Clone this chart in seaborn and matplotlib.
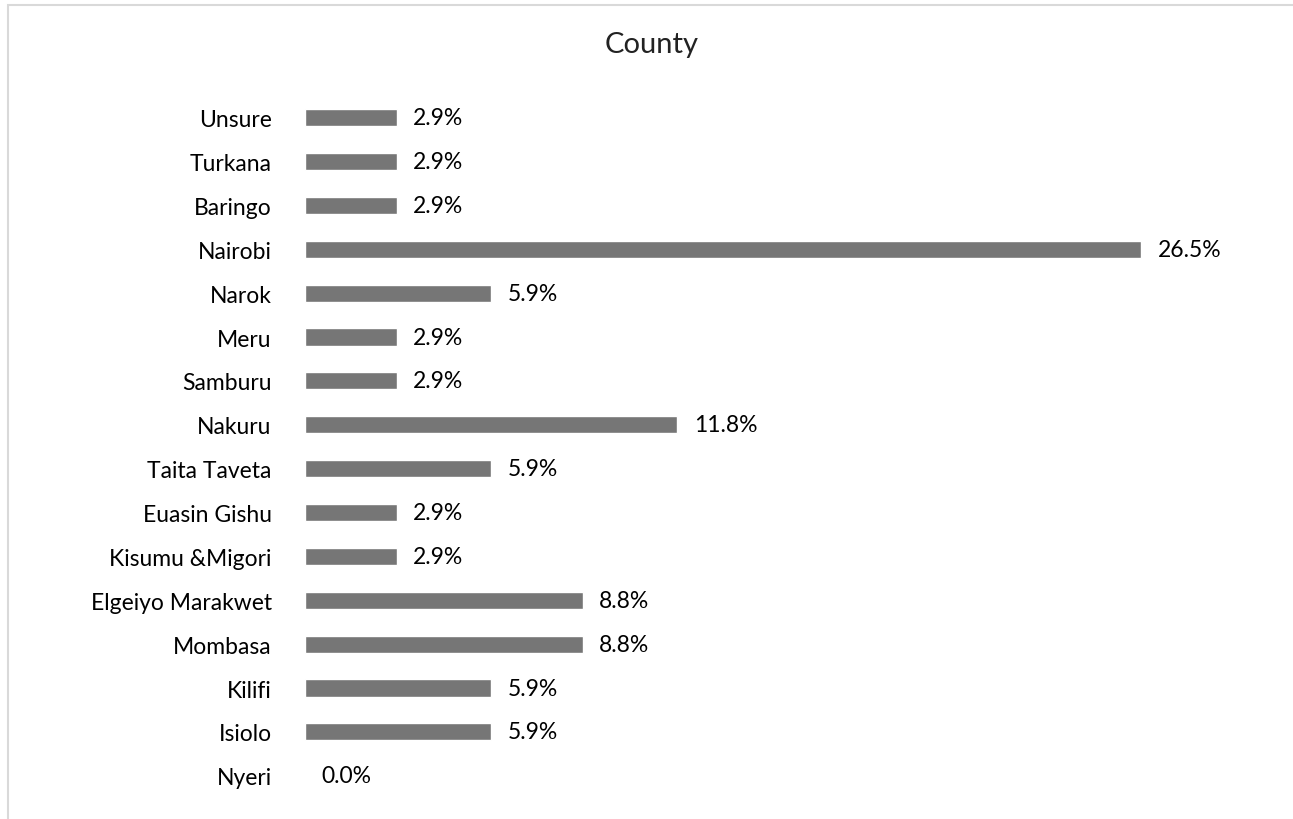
import pandas as pd
import numpy as np
import matplotlib.pyplot as plt
import seaborn as sns
from matplotlib.patches import Rectangle

counties = ['Unsure', 'Turkana', 'Baringo', 'Nairobi', 'Narok', 'Meru', 'Samburu',
            'Nakuru', 'Taita Taveta', 'Euasin Gishu', 'Kisumu &Migori',
            'Elgeiyo Marakwet', 'Mombasa', 'Kilifi', 'Isiolo', 'Nyeri']
shares = [2.9, 2.9, 2.9, 26.5, 5.9, 2.9, 2.9, 11.8, 5.9, 2.9, 2.9, 8.8, 8.8, 5.9, 5.9, 0.0]

sns.set_theme(style='white')
plt.rcParams['font.family'] = ['Lato', 'DejaVu Sans']

df = pd.DataFrame({'County': counties, 'Share': shares})

fig = plt.figure(figsize=(12.93, 8.2), dpi=100)
ax = fig.add_axes([0.2359, 0.026, 0.732, 0.856])

sns.barplot(data=df, x='Share', y='County', color='#767676', width=0.39,
            saturation=1, ax=ax)

for c in ax.containers:
    ax.bar_label(c, fmt='%.1f%%', padding=12, fontsize=16.5, color='black')

ax.set_xlim(0, 30)
ax.set_ylim(15.5, -0.5)
ax.set_xlabel('')
ax.set_ylabel('')
ax.set_xticks([])
ax.tick_params(axis='y', length=0, pad=24, labelsize=16.5, labelcolor='black')
for s in ax.spines.values():
    s.set_visible(False)
ax.patch.set_alpha(0)

fig.text(0.504, 0.945, 'County', ha='center', va='center', fontsize=21, color='#222222')

fig.patches.append(Rectangle((8 / 1293, -0.01), 1.0, 1.0 - 6 / 820 + 0.01,
                             transform=fig.transFigure, fill=False,
                             edgecolor='#d9d9d9', linewidth=1.5))

plt.savefig('out.png', dpi=100)
